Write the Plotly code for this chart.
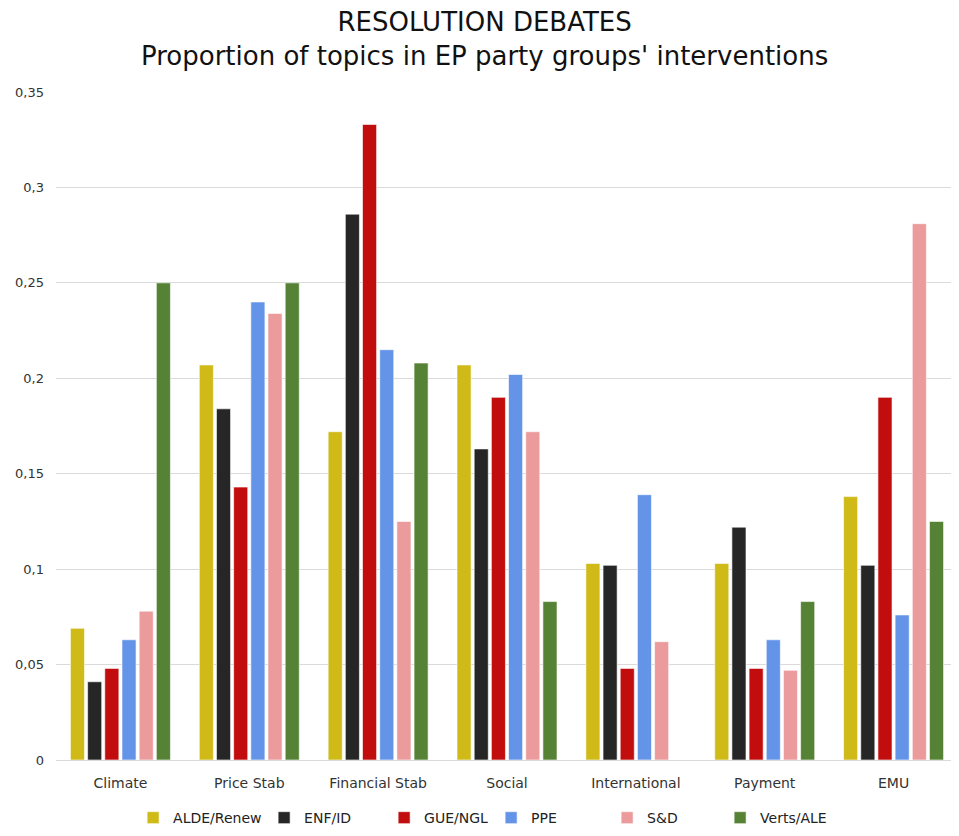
import plotly.graph_objects as go

topics = ["Climate", "Price Stab", "Financial Stab", "Social", "International", "Payment", "EMU"]

alde = [0.069, 0.207, 0.172, 0.207, 0.103, 0.103, 0.138]
enf = [0.041, 0.184, 0.286, 0.163, 0.102, 0.122, 0.102]
gue = [0.048, 0.143, 0.333, 0.190, 0.048, 0.048, 0.190]
ppe = [0.063, 0.240, 0.215, 0.202, 0.139, 0.063, 0.076]
sd = [0.078, 0.234, 0.125, 0.172, 0.062, 0.047, 0.281]
verts = [0.250, 0.250, 0.208, 0.083, 0.0, 0.083, 0.125]

groups = [
    ("ALDE/Renew", alde, "#CFBA17", 86),
    ("ENF/ID", enf, "#262626", 75),
    ("GUE/NGL", gue, "#C10D0D", 62),
    ("PPE", ppe, "#6494E8", 71),
    ("S&D", sd, "#EB9B9C", 68),
    ("Verts/ALE", verts, "#558235", 80),
]

fig = go.Figure()

for name, vals, color, lw in groups:
    fig.add_trace(go.Bar(
        x=topics,
        y=vals,
        name=name,
        legendwidth=lw,
        marker=dict(color=color, line=dict(color="white", width=0.6)),
    ))

# the page body adds an 8px offset; margins account for it
fig.update_layout(
    barmode="group",
    bargap=0.2,
    bargroupgap=0.18,
    width=959,
    height=836,
    margin=dict(l=48, r=9, t=84, b=84),
    separators=",.",
    paper_bgcolor="white",
    plot_bgcolor="white",
    font=dict(family="DejaVu Sans, sans-serif", color="#222222"),
    title=dict(
        text="RESOLUTION DEBATES<br>Proportion of topics in EP party groups' interventions",
        xref="container", x=0.497, xanchor="center",
        yref="container", y=0.972, yanchor="top",
        font=dict(size=26, color="#111111"),
    ),
    legend=dict(
        orientation="h",
        x=0.0855, xanchor="left",
        y=-0.063, yanchor="top",
        font=dict(size=14, color="#222222"),
        itemwidth=30,
        traceorder="normal",
    ),
    xaxis=dict(
        showgrid=False,
        showline=False,
        ticks="",
        automargin=False,
        ticklabelstandoff=13,
        tickfont=dict(size=14, color="#333333"),
    ),
    yaxis=dict(
        range=[0, 0.35],
        dtick=0.05,
        showgrid=True,
        gridcolor="#DADADA",
        gridwidth=1,
        zeroline=True,
        zerolinecolor="#DADADA",
        zerolinewidth=1,
        showline=False,
        ticks="",
        automargin=False,
        ticklabelstandoff=11,
        tickfont=dict(size=13, color="#333333"),
    ),
)

fig.write_html("out.html")
